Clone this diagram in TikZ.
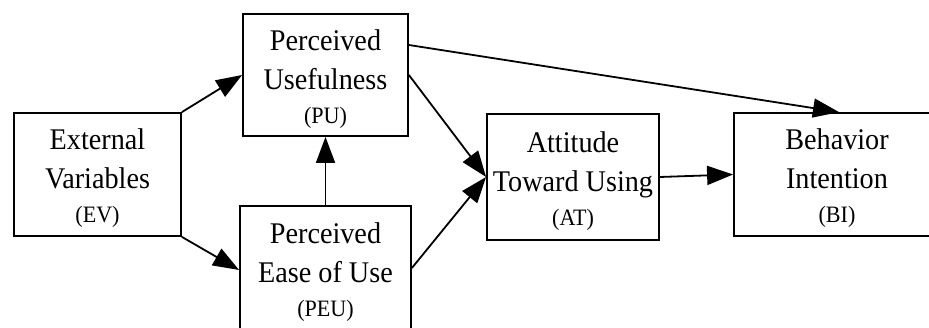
\documentclass[tikz,border=0pt]{standalone}
\usepackage{fontspec}
\setmainfont[FakeStretch=0.94]{Liberation Serif}
\usetikzlibrary{arrows.meta}
\begin{document}
\begin{tikzpicture}[x=1pt,y=-1pt,
  box/.style={draw, line width=1.8pt, rectangle, inner sep=0pt},
  txt/.style={inner sep=0pt, align=center, font=\fontsize{30}{39}\selectfont},
  conn/.style={line width=1.8pt, -{Triangle[length=26pt,width=19pt]}}
]
\newcommand{\abbrv}[1]{{\fontsize{23.5}{26}\selectfont #1}}
\useasboundingbox (0,0) rectangle (929,328);
\clip (0,0) rectangle (929,328);
\node[box, minimum width=167pt, minimum height=123pt] (ev) at (97.5,174.5) {};
\node[txt] (evt) at ([yshift=-4pt]ev.center) {External\\Variables\\[-5pt]\abbrv{(EV)}};
\node[box, minimum width=165pt, minimum height=122pt] (pu) at (325.5,75) {};
\node[txt] (put) at ([yshift=-4pt]pu.center) {Perceived\\Usefulness\\[-5pt]\abbrv{(PU)}};
\node[box, minimum width=171pt, minimum height=124pt] (peu) at (325.5,268) {};
\node[txt] (peut) at ([yshift=-4pt]peu.center) {Perceived\\Ease of Use\\[-5pt]\abbrv{(PEU)}};
\node[box, minimum width=172pt, minimum height=126pt] (at) at (573,177) {};
\node[txt] (att) at ([yshift=-4pt]at.center) {Attitude\\Toward Using\\[-5pt]\abbrv{(AT)}};
\node[box, minimum width=206pt, minimum height=123pt] (bi) at (837,174.5) {};
\node[txt] (bit) at ([yshift=-4pt]bi.center) {Behavior\\Intention\\[-5pt]\abbrv{(BI)}};
\draw[conn] (ev.north east) -- (pu.west);
\draw[conn] (ev.south east) -- ([yshift=-2pt]peu.west);
\draw[conn] (peu.north) -- (pu.south);
\draw[conn] (pu.east) -- (at.west);
\draw[conn] (peu.east) -- (at.west);
\draw[conn] ([yshift=30pt]pu.east) -- ([xshift=2pt]bi.north);
\draw[conn] (at.east) -- (bi.west);
\end{tikzpicture}
\end{document}
